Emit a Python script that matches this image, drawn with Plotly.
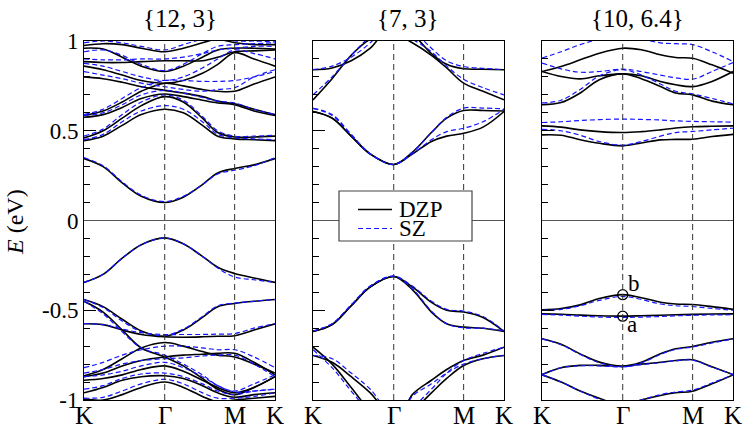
import plotly.graph_objects as go

# ---------------- data ----------------
K_GRID = [0.0, 0.1, 0.2, 0.3, 0.4226, 0.52, 0.62, 0.70, 0.7887, 0.89, 1.0]
SYM_POS = [0.0, 0.4226, 0.7887, 1.0]
SYM_LABELS = ["K", "Γ", "M", "K"]
TITLES = ["{12, 3}", "{7, 3}", "{10, 6.4}"]
Y_TICKS = [-1, -0.5, 0, 0.5, 1]
Y_TICK_TEXT = ["-1", "-0.5", "0", "0.5", "1"]
Y_MINOR = [-0.9, -0.8, -0.7, -0.6, -0.4, -0.3, -0.2, -0.1,
           0.1, 0.2, 0.3, 0.4, 0.6, 0.7, 0.8, 0.9]
LEGEND_NAMES = ["DZP", "SZ"]

P1_DZP = [
    [0.345, 0.30, 0.21, 0.135, 0.10, 0.13, 0.20, 0.265, 0.29, 0.31, 0.345],
    [0.445, 0.47, 0.53, 0.59, 0.62, 0.60, 0.53, 0.47, 0.455, 0.45, 0.445],
    [0.46, 0.50, 0.57, 0.64, 0.69, 0.66, 0.57, 0.49, 0.465, 0.465, 0.47],
    [0.575, 0.59, 0.63, 0.68, 0.705, 0.69, 0.67, 0.655, 0.645, 0.61, 0.585],
    [0.585, 0.61, 0.66, 0.72, 0.765, 0.75, 0.73, 0.72, 0.72, 0.76, 0.80],
    [0.80, 0.79, 0.77, 0.745, 0.725, 0.71, 0.69, 0.665, 0.65, 0.62, 0.59],
    [0.86, 0.84, 0.81, 0.78, 0.765, 0.78, 0.82, 0.87, 0.935, 0.90, 0.86],
    [0.885, 0.88, 0.88, 0.885, 0.89, 0.89, 0.89, 0.91, 0.94, 0.945, 0.95],
    [0.96, 0.955, 0.91, 0.86, 0.83, 0.86, 0.91, 0.95, 0.96, 0.96, 0.955],
    [0.975, 0.985, 0.98, 0.96, 0.94, 0.96, 0.99, 1.01, 0.99, 0.98, 0.98],
    [-0.345, -0.30, -0.21, -0.135, -0.097, -0.13, -0.20, -0.26, -0.295, -0.32, -0.345],
    [-0.44, -0.48, -0.55, -0.615, -0.645, -0.61, -0.54, -0.48, -0.462, -0.45, -0.44],
    [-0.45, -0.51, -0.61, -0.71, -0.76, -0.81, -0.88, -0.94, -0.97, -0.93, -0.87],
    [-0.575, -0.58, -0.61, -0.635, -0.648, -0.65, -0.648, -0.645, -0.642, -0.61, -0.576],
    [-0.865, -0.83, -0.77, -0.71, -0.68, -0.70, -0.73, -0.75, -0.76, -0.80, -0.85],
    [-0.87, -0.85, -0.81, -0.78, -0.76, -0.75, -0.745, -0.74, -0.74, -0.79, -0.86],
    [-0.89, -0.88, -0.86, -0.83, -0.81, -0.84, -0.89, -0.93, -0.96, -0.93, -0.87],
    [-0.96, -0.93, -0.89, -0.87, -0.865, -0.88, -0.92, -0.96, -0.985, -0.97, -0.96],
    [-0.995, -1.0, -0.97, -0.93, -0.90, -0.93, -0.98, -1.01, -1.0, -0.99, -0.98],
]
P1_SZ = [
    [0.35, 0.305, 0.215, 0.14, 0.105, 0.135, 0.20, 0.26, 0.28, 0.305, 0.35],
    [0.45, 0.48, 0.55, 0.61, 0.64, 0.62, 0.55, 0.48, 0.46, 0.455, 0.45],
    [0.47, 0.51, 0.59, 0.66, 0.70, 0.67, 0.58, 0.50, 0.47, 0.47, 0.475],
    [0.585, 0.60, 0.645, 0.70, 0.725, 0.71, 0.685, 0.665, 0.655, 0.62, 0.59],
    [0.59, 0.62, 0.68, 0.74, 0.78, 0.78, 0.775, 0.775, 0.78, 0.80, 0.83],
    [0.83, 0.81, 0.79, 0.765, 0.745, 0.73, 0.72, 0.73, 0.74, 0.80, 0.84],
    [0.875, 0.86, 0.83, 0.80, 0.78, 0.80, 0.85, 0.90, 0.95, 0.93, 0.90],
    [0.90, 0.895, 0.895, 0.90, 0.90, 0.91, 0.93, 0.95, 0.96, 0.97, 0.97],
    [0.94, 0.95, 0.92, 0.87, 0.835, 0.87, 0.93, 0.97, 0.98, 0.985, 0.99],
    [0.99, 1.0, 0.99, 0.97, 0.95, 0.98, 1.01, 1.02, 1.0, 1.0, 0.995],
    [-0.345, -0.30, -0.21, -0.135, -0.097, -0.13, -0.20, -0.265, -0.315, -0.33, -0.345],
    [-0.44, -0.485, -0.56, -0.62, -0.64, -0.605, -0.535, -0.475, -0.46, -0.45, -0.44],
    [-0.45, -0.52, -0.62, -0.71, -0.75, -0.80, -0.86, -0.92, -0.95, -0.91, -0.86],
    [-0.575, -0.58, -0.605, -0.625, -0.635, -0.635, -0.635, -0.633, -0.63, -0.60, -0.574],
    [-0.82, -0.79, -0.75, -0.72, -0.70, -0.70, -0.71, -0.72, -0.72, -0.76, -0.82],
    [-0.85, -0.83, -0.80, -0.78, -0.77, -0.765, -0.755, -0.75, -0.75, -0.80, -0.87],
    [-0.87, -0.86, -0.84, -0.81, -0.79, -0.82, -0.87, -0.92, -0.955, -0.95, -0.94],
    [-0.94, -0.92, -0.88, -0.855, -0.85, -0.87, -0.91, -0.95, -0.97, -0.95, -0.94],
    [-0.99, -0.985, -0.95, -0.91, -0.885, -0.91, -0.96, -0.99, -0.99, -0.98, -0.96],
]

P2_DZP = [
    [0.607, 0.57, 0.47, 0.37, 0.312, 0.37, 0.44, 0.47, 0.486, 0.52, 0.607],
    [0.607, 0.57, 0.47, 0.37, 0.312, 0.38, 0.49, 0.57, 0.613, 0.613, 0.61],
    [0.672, 0.79, 0.92, 1.01, 1.04, 0.99, 0.92, 0.85, 0.765, 0.72, 0.672],
    [0.84, 0.85, 0.89, 0.96, 1.10, 1.04, 0.93, 0.87, 0.845, 0.843, 0.84],
    [-0.618, -0.58, -0.475, -0.37, -0.312, -0.37, -0.456, -0.50, -0.51, -0.54, -0.618],
    [-0.618, -0.58, -0.475, -0.37, -0.312, -0.385, -0.51, -0.575, -0.594, -0.60, -0.618],
    [-0.706, -0.80, -0.93, -1.06, -1.15, -0.97, -0.89, -0.83, -0.78, -0.75, -0.706],
    [-0.752, -0.79, -0.87, -0.96, -1.10, -1.06, -0.96, -0.88, -0.808, -0.77, -0.752],
]
P2_SZ = [
    [0.625, 0.585, 0.475, 0.37, 0.312, 0.37, 0.45, 0.495, 0.514, 0.55, 0.62],
    [0.625, 0.59, 0.48, 0.372, 0.312, 0.38, 0.49, 0.575, 0.626, 0.626, 0.622],
    [0.70, 0.80, 0.92, 1.02, 1.06, 1.01, 0.94, 0.86, 0.787, 0.74, 0.70],
    [0.84, 0.86, 0.91, 0.99, 1.12, 1.06, 0.96, 0.89, 0.858, 0.848, 0.84],
    [-0.615, -0.575, -0.47, -0.365, -0.31, -0.365, -0.45, -0.495, -0.505, -0.535, -0.615],
    [-0.615, -0.575, -0.47, -0.365, -0.31, -0.38, -0.505, -0.575, -0.598, -0.60, -0.615],
    [-0.72, -0.82, -0.95, -1.07, -1.15, -0.98, -0.91, -0.85, -0.80, -0.77, -0.752],
    [-0.752, -0.77, -0.85, -0.94, -1.09, -1.04, -0.94, -0.85, -0.78, -0.74, -0.706],
]

P3_DZP = [
    [0.477, 0.475, 0.45, 0.43, 0.416, 0.432, 0.449, 0.452, 0.453, 0.468, 0.48],
    [0.527, 0.52, 0.505, 0.495, 0.49, 0.495, 0.505, 0.515, 0.522, 0.525, 0.527],
    [0.645, 0.657, 0.71, 0.784, 0.817, 0.79, 0.746, 0.71, 0.70, 0.665, 0.645],
    [0.83, 0.802, 0.789, 0.806, 0.817, 0.806, 0.774, 0.756, 0.746, 0.775, 0.83],
    [0.83, 0.858, 0.895, 0.932, 0.96, 0.951, 0.923, 0.908, 0.904, 0.867, 0.82],
    [-0.498, -0.49, -0.47, -0.435, -0.413, -0.43, -0.455, -0.465, -0.468, -0.48, -0.495],
    [-0.52, -0.522, -0.527, -0.531, -0.533, -0.531, -0.528, -0.525, -0.523, -0.521, -0.52],
    [-0.659, -0.69, -0.743, -0.789, -0.812, -0.79, -0.743, -0.715, -0.702, -0.678, -0.659],
    [-0.858, -0.82, -0.807, -0.807, -0.812, -0.80, -0.79, -0.78, -0.776, -0.815, -0.858],
    [-0.86, -0.90, -0.95, -0.99, -1.03, -1.0, -0.975, -0.96, -0.951, -0.91, -0.86],
]
P3_SZ = [
    [0.508, 0.50, 0.475, 0.44, 0.42, 0.44, 0.47, 0.49, 0.496, 0.505, 0.514],
    [0.546, 0.55, 0.557, 0.562, 0.565, 0.563, 0.56, 0.555, 0.552, 0.55, 0.548],
    [0.655, 0.67, 0.73, 0.805, 0.84, 0.81, 0.76, 0.72, 0.705, 0.68, 0.65],
    [0.877, 0.845, 0.826, 0.83, 0.843, 0.83, 0.81, 0.795, 0.787, 0.83, 0.88],
    [0.905, 0.94, 0.98, 1.01, 1.03, 1.01, 0.99, 0.985, 0.98, 0.94, 0.886],
    [-0.50, -0.495, -0.475, -0.445, -0.423, -0.44, -0.465, -0.475, -0.479, -0.49, -0.50],
    [-0.523, -0.527, -0.533, -0.538, -0.54, -0.538, -0.535, -0.531, -0.528, -0.526, -0.525],
    [-0.659, -0.692, -0.746, -0.792, -0.815, -0.793, -0.746, -0.718, -0.705, -0.682, -0.66],
    [-0.858, -0.82, -0.809, -0.81, -0.815, -0.803, -0.792, -0.781, -0.778, -0.817, -0.858],
    [-0.86, -0.90, -0.95, -0.995, -1.03, -1.0, -0.97, -0.955, -0.945, -0.905, -0.86],
]

MARK_K = [0.4226, 0.4226]
MARK_E = [-0.413, -0.533]
MARK_LABELS = ["b", "a"]
MARK_LABEL_POS = [(0.48, -0.351), (0.473, -0.579)]

# ---------------- figure ----------------
W, H = 747, 429
FONT = "Liberation Serif, DejaVu Serif, Times New Roman, serif"
X_DOMAINS = [(84 / W, 275 / W), (313 / W, 504 / W), (542 / W, 733 / W)]
Y_DOMAIN = (1 - 400 / H, 1 - 41 / H)
BLACK = dict(color="black", width=1.6)
BLUE = dict(color="#1414ff", width=1.2, dash="5px,3px")


def px(x):
    return x / W


def py(y):
    return 1 - y / H


fig = go.Figure()
panels = [(P1_DZP, P1_SZ), (P2_DZP, P2_SZ), (P3_DZP, P3_SZ)]
for i, (dzp, sz) in enumerate(panels):
    xa = "x" if i == 0 else f"x{i+1}"
    ya = "y" if i == 0 else f"y{i+1}"
    for band in dzp:
        fig.add_trace(go.Scatter(x=K_GRID, y=band, mode="lines", xaxis=xa, yaxis=ya,
                                 line=dict(**BLACK, shape="spline"), name=LEGEND_NAMES[0],
                                 showlegend=False, hoverinfo="skip"))
    for band in sz:
        fig.add_trace(go.Scatter(x=K_GRID, y=band, mode="lines", xaxis=xa, yaxis=ya,
                                 line=dict(**BLUE, shape="spline"), name=LEGEND_NAMES[1],
                                 showlegend=False, hoverinfo="skip"))

# circles at Gamma in panel 3
fig.add_trace(go.Scatter(x=MARK_K, y=MARK_E, mode="markers", xaxis="x3", yaxis="y3",
                         marker=dict(symbol="circle-open", size=10, color="black",
                                     line=dict(width=1.3, color="black")),
                         showlegend=False, hoverinfo="skip"))

layout = dict(
    width=W, height=H, margin=dict(l=0, r=0, t=0, b=0, autoexpand=False),
    paper_bgcolor="white", plot_bgcolor="white",
    font=dict(family=FONT, size=22, color="black"),
    showlegend=False,
)
shapes = []
annotations = []
for i in range(3):
    sfx = "" if i == 0 else str(i + 1)
    layout["xaxis" + sfx] = dict(
        domain=list(X_DOMAINS[i]), range=[0, 1], anchor="y" + sfx, automargin=False,
        showgrid=False, zeroline=False, showline=True, mirror=True,
        linecolor="black", linewidth=1, ticks="",
        tickmode="array", tickvals=SYM_POS, ticktext=SYM_LABELS,
        showticklabels=False, fixedrange=True)
    layout["yaxis" + sfx] = dict(
        domain=list(Y_DOMAIN), range=[-1, 1], anchor="x" + sfx, automargin=False,
        showgrid=False, zeroline=False, showline=True, mirror=True,
        linecolor="black", linewidth=1,
        ticks="inside", ticklen=12, tickcolor="black", tickwidth=1,
        tickmode="array", tickvals=Y_TICKS, ticktext=Y_TICK_TEXT,
        showticklabels=(i == 0),
        tickfont=dict(family=FONT, size=23, color="black"),
        minor=dict(tickmode="array", tickvals=Y_MINOR, ticks="inside",
                   ticklen=6, tickcolor="black", tickwidth=1, showgrid=False),
        fixedrange=True)
    xr = "x" + sfx
    yr = "y" + sfx
    shapes.append(dict(type="line", xref=xr, yref=yr, x0=0, x1=1, y0=0, y1=0,
                       line=dict(color="#555", width=1.2), layer="above"))
    for xv in SYM_POS[1:3]:
        shapes.append(dict(type="line", xref=xr, yref=yr, x0=xv, x1=xv, y0=-1, y1=1,
                           line=dict(color="#333", width=1, dash="6px,4px"), layer="above"))
    # k-point labels below each panel
    for xv, lab in zip(SYM_POS, SYM_LABELS):
        annotations.append(dict(text=lab, xref=xr, yref="paper", x=xv, y=py(415),
                                xanchor="center", yanchor="middle", showarrow=False,
                                font=dict(family=FONT, size=25, color="black")))
    cx = (X_DOMAINS[i][0] + X_DOMAINS[i][1]) / 2
    annotations.append(dict(text=TITLES[i], xref="paper", yref="paper", x=cx, y=py(18),
                            xanchor="center", yanchor="middle", showarrow=False,
                            font=dict(family=FONT, size=25, color="black")))

# manual legend inside panel 2
shapes.append(dict(type="rect", xref="paper", yref="paper", x0=px(339), x1=px(472),
                   y0=py(241), y1=py(191), fillcolor="white",
                   line=dict(color="#444", width=1.2), layer="above"))
for j, (yy, st) in enumerate([(209.5, BLACK), (228.5, BLUE)]):
    shapes.append(dict(type="line", xref="paper", yref="paper", x0=px(358), x1=px(392),
                       y0=py(yy), y1=py(yy), line=st, layer="above"))
    annotations.append(dict(text=LEGEND_NAMES[j], xref="paper", yref="paper", x=px(398), y=py(yy),
                            xanchor="left", yanchor="middle", showarrow=False, borderpad=0,
                            font=dict(family=FONT, size=23, color="black")))

annotations.append(dict(text="<i>E</i> (eV)", xref="paper", yref="paper", x=px(15), y=py(222),
                        xanchor="center", yanchor="middle", textangle=-90, showarrow=False,
                        font=dict(family=FONT, size=24, color="black")))
for lab, (lx, ly) in zip(MARK_LABELS, MARK_LABEL_POS):
    annotations.append(dict(text=lab, xref="x3", yref="y3", x=lx, y=ly, xanchor="center",
                            yanchor="middle", showarrow=False,
                            font=dict(family=FONT, size=23, color="black")))

layout["shapes"] = shapes
layout["annotations"] = annotations
fig.update_layout(**layout)
fig.write_html("out.html", config={"displayModeBar": False},
               post_script="document.body.style.margin='0';")
